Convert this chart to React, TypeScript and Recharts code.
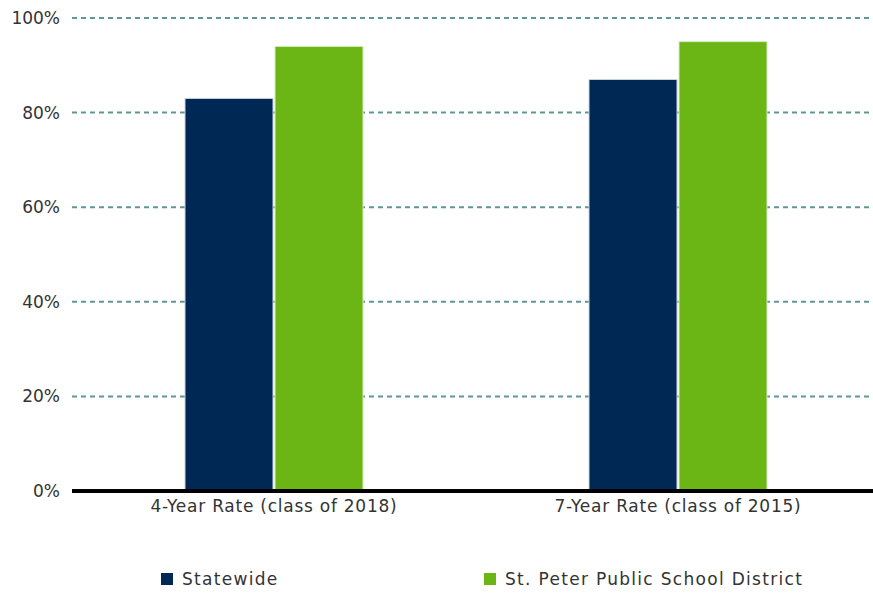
import { BarChart, Bar, XAxis, YAxis, CartesianGrid, Legend } from "recharts";

const categories = ["4-Year Rate (class of 2018)", "7-Year Rate (class of 2015)"];
const statewide = [83, 87];
const stPeter = [94, 95];
const yTicks = [0, 20, 40, 60, 80, 100];

const seriesNames = ["Statewide", "St. Peter Public School District"];
const colors = ["#002855", "#6bb514"];

const data = categories.map((name, i) => ({
  name,
  statewide: statewide[i],
  stPeter: stPeter[i],
}));

const font = "'DejaVu Sans', sans-serif";

function LegendContent() {
  const lefts = [161, 484];
  return (
    <div style={{ position: "relative", height: 64 }}>
      {seriesNames.map((n, i) => (
        <div
          key={n}
          style={{
            position: "absolute",
            left: lefts[i],
            top: 38,
            display: "flex",
            alignItems: "center",
            fontFamily: font,
            fontSize: 17,
            color: "#333",
            letterSpacing: 1.3,
          }}
        >
          <span style={{ width: 12, height: 12, background: colors[i], marginRight: 9, display: "inline-block" }} />
          {n}
        </div>
      ))}
    </div>
  );
}

export default function App() {
  return (
    <div style={{ position: "absolute", left: 0, top: 0, width: 873, height: 595, overflow: "hidden", background: "#fff" }}>
      <BarChart
        width={890}
        height={595}
        data={data}
        margin={{ top: 18, right: 10, left: 0, bottom: 0 }}
        barGap={2}
        barSize={88}
      >
        <CartesianGrid vertical={false} stroke="#5f9797" strokeDasharray="5 4" strokeWidth={2} />
        <YAxis
          width={72}
          domain={[0, 100]}
          ticks={yTicks}
          tickFormatter={(v: number) => `${v}%`}
          axisLine={false}
          tickLine={false}
          tickSize={0}
          tickMargin={12}
          tick={{ fill: "#333", fontSize: 17, fontFamily: font }}
        />
        <XAxis
          dataKey="name"
          height={40}
          axisLine={{ stroke: "#000", strokeWidth: 4 }}
          tickLine={false}
          tickSize={0}
          tickMargin={9}
          tick={{ fill: "#333", fontSize: 17, fontFamily: font, letterSpacing: 0.75 }}
        />
        <Legend verticalAlign="bottom" height={64} content={() => <LegendContent />} />
        <Bar dataKey="statewide" name={seriesNames[0]} fill={colors[0]} stroke="#c9d3dc" strokeWidth={1} isAnimationActive={false} />
        <Bar dataKey="stPeter" name={seriesNames[1]} fill={colors[1]} stroke="#d6ebc0" strokeWidth={1} isAnimationActive={false} />
      </BarChart>
    </div>
  );
}
